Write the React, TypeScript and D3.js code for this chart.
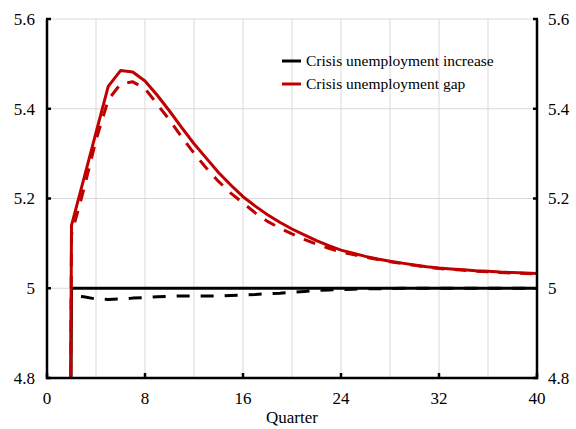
import { useEffect, useRef } from "react"
import * as d3 from "d3"

// quarters 1..40
const quarters = d3.range(1, 41)

// red solid: crisis unemployment gap
const gapSolid = [
  0, 5.14, 5.243, 5.347, 5.45, 5.485, 5.482, 5.462, 5.43, 5.395,
  5.358, 5.322, 5.29, 5.258, 5.23, 5.204, 5.183, 5.164, 5.147, 5.132,
  5.119, 5.106, 5.095, 5.085, 5.078, 5.071, 5.065, 5.06, 5.056, 5.052,
  5.048, 5.045, 5.043, 5.041, 5.039, 5.038, 5.036, 5.035, 5.034, 5.033,
]
// red dashed
const gapDashed = [
  0, 5.12, 5.22, 5.33, 5.42, 5.455, 5.46, 5.445, 5.41, 5.375,
  5.337, 5.301, 5.268, 5.238, 5.212, 5.19, 5.168, 5.149, 5.134, 5.121,
  5.109, 5.098, 5.089, 5.081, 5.075, 5.069, 5.064, 5.059, 5.055, 5.051,
  5.047, 5.044, 5.042, 5.04, 5.038, 5.037, 5.035, 5.034, 5.033, 5.032,
]
// black solid: crisis unemployment increase
const increaseSolid = [
  0, 5, 5, 5, 5, 5, 5, 5, 5, 5,
  5, 5, 5, 5, 5, 5, 5, 5, 5, 5,
  5, 5, 5, 5, 5, 5, 5, 5, 5, 5,
  5, 5, 5, 5, 5, 5, 5, 5, 5, 5,
]
// black dashed (starts at quarter 2)
const increaseDashed = [
  null, 4.983, 4.981, 4.976, 4.975, 4.976, 4.978, 4.979, 4.981, 4.982,
  4.983, 4.983, 4.983, 4.983, 4.984, 4.985, 4.986, 4.988, 4.989, 4.991,
  4.993, 4.995, 4.996, 4.997, 4.998, 4.999, 4.999, 4.999, 5, 5,
  5, 5, 5, 5, 5, 5, 5, 5, 5, 5,
]

const xTicks = [0, 8, 16, 24, 32, 40]
const xGrid = d3.range(4, 40, 4)
const yTicks = [4.8, 5, 5.2, 5.4, 5.6]
const legendItems = [
  { label: "Crisis unemployment increase", color: "#000000" },
  { label: "Crisis unemployment gap", color: "#c00000" },
]

export default function App() {
  const svgRef = useRef<SVGSVGElement>(null)

  useEffect(() => {
    if (!svgRef.current) return
    const svg = d3.select(svgRef.current)
    svg.selectAll("*").remove()

    const width = 576
    const height = 429
    const margin = { top: 19, right: 39, bottom: 51, left: 47 }
    const font = "'Liberation Serif', 'Times New Roman', serif"

    const x = d3.scaleLinear().domain([0, 40]).range([margin.left, width - margin.right])
    const y = d3.scaleLinear().domain([4.8, 5.6]).range([height - margin.bottom, margin.top])

    svg.append("defs").append("clipPath").attr("id", "plot-clip")
      .append("rect")
      .attr("x", x(0)).attr("y", y(5.6))
      .attr("width", x(40) - x(0)).attr("height", y(4.8) - y(5.6))

    // grid lines
    const grid = svg.append("g").attr("stroke", "#d9d9d9").attr("stroke-width", 1)
    xGrid.forEach((d) => {
      grid.append("line")
        .attr("x1", x(d)).attr("x2", x(d))
        .attr("y1", y(4.8)).attr("y2", y(5.6))
    })
    yTicks.filter((d) => d > 4.8).forEach((d) => {
      grid.append("line")
        .attr("x1", x(0)).attr("x2", x(40))
        .attr("y1", y(d)).attr("y2", y(d))
    })

    // series
    const line = d3.line<[number, number | null]>()
      .defined((d) => d[1] !== null)
      .x((d) => x(d[0]))
      .y((d) => y(d[1] as number))

    const plot = svg.append("g").attr("clip-path", "url(#plot-clip)").attr("fill", "none")
    const series = [
      { values: increaseDashed, color: "#000", dash: "13,11", offset: 14.5 },
      { values: increaseSolid, color: "#000", dash: null, offset: 0 },
      { values: gapDashed, color: "#c00000", dash: "12,10", offset: 0 },
      { values: gapSolid, color: "#c00000", dash: null, offset: 0 },
    ]
    series.forEach((s) => {
      plot.append("path")
        .datum(quarters.map((q, i) => [q, s.values[i]] as [number, number | null]))
        .attr("d", line)
        .attr("stroke", s.color)
        .attr("stroke-width", 3)
        .attr("stroke-linejoin", "round")
        .attr("stroke-dasharray", s.dash)
        .attr("stroke-dashoffset", s.offset)
    })

    // axes
    const axes = svg.append("g").attr("stroke", "#000").attr("stroke-width", 2.5).attr("fill", "none")
    axes.append("path")
      .attr("d", `M${x(0)},${y(5.6)}V${y(4.8)}H${x(40)}V${y(5.6)}`)
    yTicks.forEach((d) => {
      axes.append("line").attr("x1", x(0) - 1).attr("x2", x(0) + 4).attr("y1", y(d)).attr("y2", y(d))
      axes.append("line").attr("x1", x(40) + 1).attr("x2", x(40) - 4).attr("y1", y(d)).attr("y2", y(d))
    })
    xTicks.forEach((d) => {
      axes.append("line").attr("x1", x(d)).attr("x2", x(d)).attr("y1", y(4.8)).attr("y2", y(4.8) - 5)
    })

    const labels = svg.append("g").attr("font-family", font).attr("font-size", 17).attr("fill", "#000")
    yTicks.forEach((d) => {
      const t = d3.format("~g")(d)
      labels.append("text").attr("x", x(0) - 12).attr("y", y(d)).attr("dy", "0.35em")
        .attr("text-anchor", "end").text(t)
      labels.append("text").attr("x", x(40) + 11).attr("y", y(d)).attr("dy", "0.35em")
        .attr("text-anchor", "start").text(t)
    })
    xTicks.forEach((d) => {
      labels.append("text").attr("x", x(d)).attr("y", y(4.8) + 26)
        .attr("text-anchor", "middle").text(d)
    })
    labels.append("text").attr("x", (x(0) + x(40)) / 2).attr("y", height - 6)
      .attr("text-anchor", "middle").text("Quarter")

    // legend
    const legend = svg.append("g").attr("transform", "translate(282,61)")
    legendItems.forEach((item, i) => {
      const g = legend.append("g").attr("transform", `translate(0,${i * 23})`)
      g.append("line").attr("x1", 0).attr("x2", 19).attr("y1", 0).attr("y2", 0)
        .attr("stroke", item.color).attr("stroke-width", 3)
      g.append("text").attr("x", 24).attr("y", 0).attr("dy", "0.33em")
        .attr("font-family", font).attr("font-size", 15.5).text(item.label)
    })
  }, [])

  return (
    <svg
      ref={svgRef}
      width={576}
      height={429}
      style={{ position: "absolute", left: 0, top: 0, background: "#fff" }}
    />
  )
}
